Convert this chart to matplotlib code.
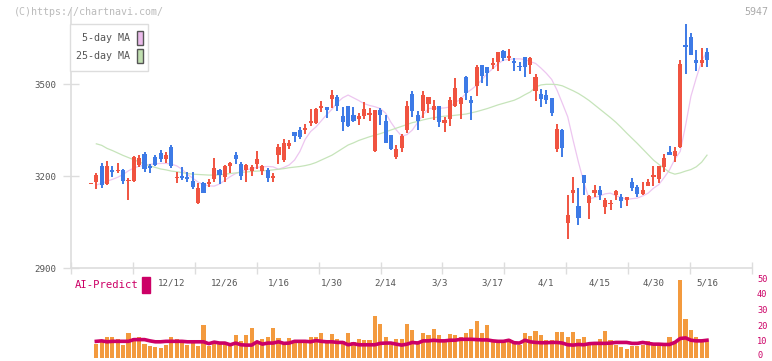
import matplotlib
matplotlib.use("Agg")
import matplotlib.pyplot as plt
from matplotlib.patches import Rectangle
import matplotlib.transforms as mtransforms
import numpy as np

# daily candles (index 0 .. 115)
opens = [3175, 3181, 3233, 3174, 3220, 3216, 3220, 3183, 3185, 3236,
         3273, 3231, 3261, 3276, 3254, 3296, 3192, 3200, 3196, 3184,
         3111, 3176, 3175, 3190, 3220, 3198, 3234, 3268, 3239, 3220,
         3216, 3239, 3215, 3220, 3193, 3268, 3252, 3299, 3342, 3350,
         3350, 3374, 3372, 3423, 3425, 3451, 3456, 3396, 3428, 3399,
         3386, 3396, 3399, 3282, 3415, 3379, 3334, 3263, 3290, 3350,
         3467, 3399, 3412, 3435, 3415, 3428, 3374, 3385, 3427, 3435,
         3524, 3448, 3492, 3562, 3554, 3562, 3573, 3608, 3586, 3575,
         3560, 3587, 3562, 3478, 3467, 3464, 3454, 3287, 3350, 3048,
         3144, 3102, 3203, 3113, 3146, 3154, 3100, 3108, 3139, 3131,
         3122, 3180, 3163, 3141, 3169, 3198, 3190, 3228, 3278, 3265,
         3296, 3627, 3652, 3577, 3567, 3603]
highs = [3178, 3211, 3241, 3250, 3233, 3241, 3224, 3193, 3265, 3268,
         3278, 3239, 3268, 3285, 3279, 3300, 3214, 3228, 3214, 3214,
         3178, 3182, 3189, 3260, 3223, 3236, 3245, 3279, 3245, 3238,
         3236, 3281, 3236, 3225, 3209, 3304, 3321, 3317, 3345, 3361,
         3369, 3418, 3423, 3445, 3425, 3480, 3464, 3426, 3428, 3426,
         3407, 3440, 3421, 3415, 3423, 3399, 3334, 3301, 3336, 3445,
         3477, 3412, 3477, 3456, 3448, 3428, 3393, 3456, 3520, 3456,
         3526, 3461, 3562, 3562, 3554, 3584, 3603, 3611, 3614, 3584,
         3573, 3587, 3587, 3532, 3483, 3480, 3454, 3370, 3352, 3138,
         3198, 3160, 3203, 3138, 3171, 3167, 3127, 3122, 3154, 3141,
         3131, 3193, 3171, 3180, 3190, 3234, 3231, 3271, 3298, 3296,
         3578, 3696, 3667, 3611, 3617, 3617]
lows = [3174, 3157, 3160, 3171, 3196, 3209, 3174, 3122, 3182, 3228,
        3214, 3211, 3231, 3245, 3241, 3225, 3178, 3187, 3182, 3157,
        3108, 3143, 3165, 3182, 3173, 3182, 3209, 3239, 3187, 3179,
        3201, 3223, 3203, 3182, 3182, 3239, 3247, 3288, 3310, 3321,
        3336, 3364, 3369, 3408, 3390, 3421, 3411, 3347, 3361, 3377,
        3366, 3387, 3380, 3279, 3366, 3307, 3286, 3254, 3279, 3339,
        3393, 3350, 3390, 3404, 3383, 3361, 3345, 3363, 3424, 3387,
        3448, 3383, 3461, 3504, 3492, 3548, 3544, 3576, 3576, 3544,
        3544, 3522, 3533, 3446, 3426, 3435, 3396, 3279, 3263, 2994,
        3111, 3040, 3138, 3059, 3133, 3122, 3076, 3089, 3122, 3095,
        3103, 3152, 3131, 3138, 3166, 3169, 3178, 3214, 3268, 3247,
        3292, 3533, 3596, 3541, 3554, 3554]
closes = [3177, 3203, 3171, 3233, 3214, 3219, 3185, 3186, 3261, 3258,
          3224, 3225, 3236, 3254, 3268, 3233, 3194, 3194, 3191, 3165,
          3160, 3146, 3180, 3225, 3203, 3233, 3242, 3255, 3201, 3236,
          3228, 3255, 3231, 3194, 3200, 3293, 3307, 3309, 3332, 3328,
          3356, 3378, 3418, 3427, 3414, 3464, 3427, 3377, 3364, 3379,
          3395, 3417, 3407, 3415, 3400, 3309, 3288, 3288, 3330, 3428,
          3412, 3379, 3464, 3456, 3428, 3377, 3383, 3448, 3486, 3454,
          3472, 3439, 3554, 3526, 3537, 3570, 3603, 3584, 3591, 3568,
          3554, 3557, 3584, 3524, 3451, 3448, 3407, 3353, 3291, 3073,
          3154, 3063, 3178, 3135, 3153, 3138, 3122, 3110, 3150, 3117,
          3131, 3162, 3141, 3154, 3180, 3203, 3231, 3260, 3268, 3281,
          3565, 3622, 3596, 3570, 3577, 3577]

# moving averages (no value for the first day)
ma5 = [np.nan, 3171, 3176, 3183, 3189, 3196, 3205, 3217, 3226, 3232,
       3235, 3238, 3240, 3241, 3241, 3239, 3233, 3222, 3205, 3193,
       3180, 3172, 3168, 3167, 3174, 3186, 3198, 3208, 3215, 3220,
       3224, 3228, 3230, 3231, 3230, 3222, 3228, 3236, 3252, 3280,
       3320, 3345, 3360, 3380, 3400, 3418, 3440, 3455, 3464, 3455,
       3446, 3436, 3430, 3426, 3420, 3405, 3375, 3350, 3330, 3335,
       3350, 3375, 3400, 3420, 3421, 3421, 3422, 3425, 3440, 3450,
       3470, 3482, 3496, 3515, 3535, 3550, 3566, 3578, 3580, 3582,
       3582, 3580, 3573, 3567, 3552, 3535, 3515, 3480, 3437, 3393,
       3317, 3245, 3180, 3125, 3130, 3135, 3142, 3144, 3136, 3130,
       3124, 3126, 3128, 3135, 3144, 3160, 3172, 3195, 3220, 3255,
       3280, 3365, 3460, 3520, 3575, 3606]
ma25 = [np.nan, 3305, 3300, 3290, 3283, 3275, 3267, 3260, 3253, 3246,
        3239, 3233, 3228, 3223, 3220, 3216, 3214, 3211, 3208, 3206,
        3205, 3204, 3203, 3203, 3204, 3206, 3208, 3210, 3212, 3213,
        3215, 3216, 3217, 3218, 3220, 3222, 3224, 3227, 3229, 3231,
        3234, 3238, 3244, 3252, 3260, 3268, 3279, 3290, 3301, 3308,
        3316, 3322, 3328, 3333, 3338, 3344, 3350, 3356, 3362, 3368,
        3374, 3378, 3383, 3387, 3390, 3393, 3395, 3396, 3398, 3400,
        3402, 3406, 3410, 3415, 3420, 3426, 3432, 3437, 3442, 3447,
        3455, 3465, 3474, 3490, 3497, 3499, 3499, 3498, 3494, 3486,
        3478, 3469, 3458, 3446, 3432, 3418, 3404, 3390, 3375, 3358,
        3340, 3323, 3306, 3288, 3270, 3252, 3238, 3225, 3212, 3206,
        3210, 3216, 3221, 3230, 3245, 3268]

# lower panel: volume-like bars and the AI-Predict line
volume = [np.nan, 8.5, 11.0, 13.3, 13.3, 11.6, 7.9, 15.4, 12.7, 13.3,
          8.5, 7.4, 7.0, 6.0, 7.9, 13.3, 11.6, 10.6, 7.9, 9.1,
          7.4, 20.4, 7.4, 10.6, 9.6, 8.5, 7.9, 14.2, 10.6, 14.2,
          18.6, 8.5, 11.6, 13.3, 18.6, 12.7, 9.6, 12.3, 10.6, 10.6,
          11.2, 13.3, 13.3, 15.4, 9.6, 14.8, 12.1, 10.6, 15.4, 9.6,
          11.6, 11.2, 11.2, 26.7, 21.1, 13.1, 7.9, 11.6, 11.6, 21.1,
          17.5, 10.2, 15.4, 14.2, 17.9, 14.2, 9.6, 14.8, 14.2, 13.3,
          15.4, 17.9, 23.1, 15.4, 20.4, 9.6, 9.6, 9.6, 12.1, 10.0,
          7.9, 15.4, 13.7, 16.8, 14.2, 11.0, 11.0, 16.2, 16.2, 13.1,
          16.2, 11.6, 13.1, 8.5, 7.9, 11.6, 16.8, 11.2, 7.9, 7.0,
          5.3, 7.4, 7.4, 7.9, 10.4, 7.9, 8.5, 7.4, 13.1, 10.4,
          49.5, 24.8, 17.5, 13.1, 9.6, 10.0]
ai_predict = [np.nan, 10.3, 10.6, 10.0, 10.3, 10.3, 10.3, 10.3, 11.4, 11.4,
              11.4, 10.6, 10.0, 10.0, 10.3, 10.3, 10.3, 10.3, 10.0, 10.0,
              10.0, 10.0, 8.8, 9.8, 9.2, 9.2, 8.1, 9.2, 8.1, 7.9,
              7.9, 10.0, 8.5, 9.2, 9.2, 10.0, 9.0, 9.2, 10.3, 10.3,
              10.3, 10.0, 10.8, 10.3, 10.0, 10.0, 9.6, 9.6, 8.1, 8.8,
              8.1, 8.1, 8.1, 8.1, 9.0, 9.2, 9.2, 8.5, 7.9, 8.5,
              9.6, 9.2, 10.6, 10.6, 11.0, 10.6, 10.6, 11.0, 11.0, 11.6,
              11.6, 11.6, 11.4, 11.2, 11.2, 10.6, 10.3, 10.3, 11.0, 9.4,
              9.2, 11.0, 10.0, 9.6, 9.4, 9.4, 9.6, 9.6, 9.2, 8.1,
              7.9, 8.3, 8.1, 8.8, 9.0, 9.0, 9.0, 9.2, 9.6, 9.6,
              9.6, 9.0, 9.0, 9.6, 9.0, 8.5, 8.5, 8.3, 8.3, 9.6,
              12.1, 12.5, 11.0, 10.6, 10.6, 11.0]

date_labels = ["12/12", "12/26", "1/16", "1/30", "2/14", "3/3",
               "3/17", "4/1", "4/15", "4/30", "5/16"]
date_pos = [15, 25, 35, 45, 55, 65, 75, 85, 95, 105, 115]
right_ticks = [0, 10, 20, 30, 40, 50]

W, H = 772, 361
fig = plt.figure(figsize=(W / 100, H / 100), dpi=100)
mono = "DejaVu Sans Mono"
grey = "#dddddd"
up_col, down_col = "#f05340", "#3d7ae6"
pink = "#cc0066"

def fx(px):
    return px / W

def fy(py):
    return 1 - py / H

xmin, xmax = -3.73, 123.4
x = np.arange(len(closes))
o, h, l, c = map(np.array, (opens, highs, lows, closes))

# ---- price panel
ax = fig.add_axes([fx(71), fy(268), fx(752) - fx(71), fy(10) - fy(268)])
cols = np.where(c >= o, up_col, down_col)
ax.vlines(x, l, h, colors=cols, linewidth=1.4, zorder=2)
body_lo = np.minimum(o, c)
body_h = np.maximum(np.abs(c - o), 3.5)
ax.bar(x, body_h, bottom=body_lo, width=0.78, color=cols, linewidth=0, zorder=3)
ax.plot(x, ma5, color="#edc6f0", linewidth=0.9, zorder=1)
ax.plot(x, ma25, color="#c6e4ba", linewidth=0.9, zorder=1)

ax.set_xlim(xmin, xmax)
ax.set_ylim(2900, 2900 + (268 - 10) * 300 / 92)
ax.set_xticks(np.linspace(xmin, xmax, 12))
ax.set_xticklabels([])
ax.set_yticks([2900, 3200, 3500])
ax.tick_params(axis="x", direction="inout", length=9, color=grey, width=1)
ax.tick_params(axis="y", direction="inout", length=11, color=grey, width=1,
               labelsize=6.6, labelcolor="#555555", pad=5)
for lab in ax.get_yticklabels():
    lab.set_family(mono)
for s in ("top", "right"):
    ax.spines[s].set_visible(False)
for s in ("left", "bottom"):
    ax.spines[s].set_color(grey)
    ax.spines[s].set_linewidth(1.2)

# ---- lower panel
axv = fig.add_axes([fx(71), fy(357.5), fx(752) - fx(71), fy(279) - fy(357.5)])
axv.bar(x, volume, width=0.78, color="#f39a3e", linewidth=0, zorder=1)
axv.plot(x, ai_predict, color=pink, linewidth=2.6, zorder=2)
axv.set_xlim(xmin, xmax)
axv.set_ylim(0, 50)
axv.set_xticks([])
axv.set_yticks([])
for s in axv.spines.values():
    s.set_visible(False)
axv.patch.set_alpha(0)

# right-hand scale of the lower panel (the 0 is lifted a little to stay inside)
tr_r = mtransforms.blended_transform_factory(fig.transFigure, axv.transData)
for v in right_ticks:
    axv.text(fx(757), max(v, 1.3), str(v), transform=tr_r, ha="left",
             va="center", fontsize=6.2, color=pink, family=mono)

# date labels sit under the price panel, centred on their candles
tr = mtransforms.blended_transform_factory(axv.transData, fig.transFigure)
for pos, lab in zip(date_pos, date_labels):
    axv.text(pos, fy(283), lab, transform=tr, ha="center", va="center",
             fontsize=6.6, color="#555555", family=mono)

fig.text(fx(75), fy(285), "AI-Predict", fontsize=7.6, color=pink,
         family=mono, va="center", ha="left")
fig.patches.append(Rectangle((fx(142), fy(293)), fx(8), fy(277) - fy(293),
                             transform=fig.transFigure, color=pink))

# header texts
fig.text(fx(14), fy(12), "(C)https://chartnavi.com/", fontsize=7.2,
         color="#bbbbbb", family=mono, va="center", ha="left")
fig.text(fx(768), fy(12), "5947", fontsize=7.2, color="#aaaaaa",
         family=mono, va="center", ha="right")

# legend box
fig.patches.append(Rectangle((fx(70), fy(71)), fx(78), fy(24) - fy(71),
                             transform=fig.transFigure, facecolor="white",
                             edgecolor="#dddddd", linewidth=1, zorder=5))
for yy, name, colr in [(38, "5-day MA", "#ebbbeb"), (56, "25-day MA", "#c0dfb0")]:
    fig.text(fx(130), fy(yy), name, fontsize=7.2, color="#555555",
             family=mono, va="center", ha="right", zorder=6)
    fig.patches.append(Rectangle((fx(137), fy(yy + 7)), fx(6), fy(yy - 7) - fy(yy + 7),
                                 transform=fig.transFigure, facecolor=colr,
                                 edgecolor="#555555", linewidth=1, zorder=6))

fig.savefig("out.png", dpi=100)
